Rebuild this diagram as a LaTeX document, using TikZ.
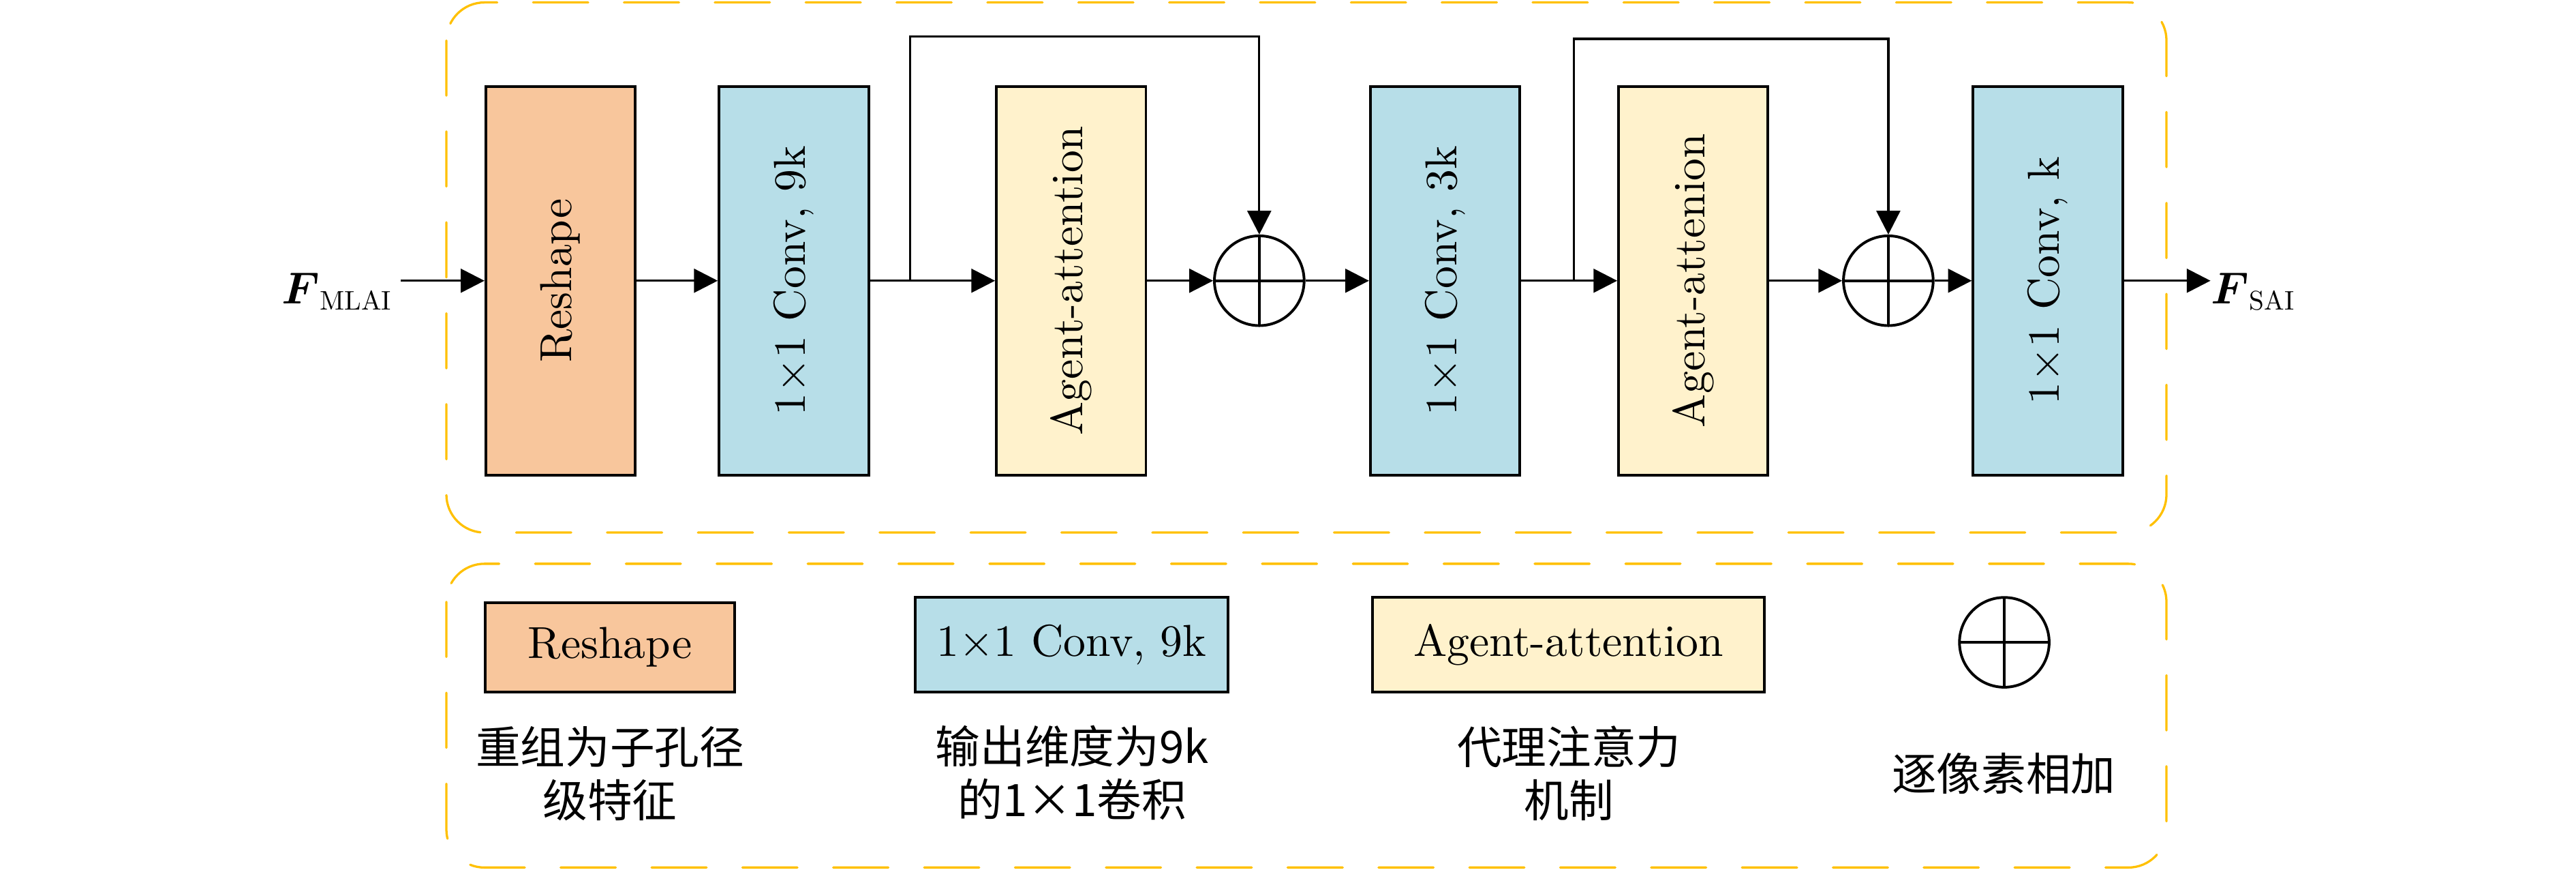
\documentclass[tikz,border=0pt]{standalone}
\usepackage{fontspec}
\usepackage{amsmath,amssymb}
\usepackage{graphicx}
\newfontfamily\cjk{Noto Sans CJK SC}
\usetikzlibrary{arrows.meta,calc}
\definecolor{reshapefill}{RGB}{248,198,156}
\definecolor{convfill}{RGB}{183,222,232}
\definecolor{agentfill}{RGB}{255,242,204}
\definecolor{frameorange}{RGB}{255,192,0}
\newcommand{\onebyone}{1{\texttimes}1}
\newcommand{\subtxt}[1]{\mbox{\scalebox{0.6}{\fontsize{10}{12}\selectfont #1}}}
\begin{document}
\begin{tikzpicture}[x=0.367pt,y=-0.367pt,
  sz/.style 2 args={minimum width=#1*0.367pt, minimum height=#2*0.367pt},
  blk/.style={draw=black, line width=0.6pt, inner sep=0pt, font=\fontsize{10}{12}\selectfont},
  reshapebox/.style={blk, fill=reshapefill},
  convbox/.style={blk, fill=convfill},
  agentbox/.style={blk, fill=agentfill},
  oplus/.style={circle, draw=black, line width=0.6pt, inner sep=0pt, minimum size=54.6*0.367pt,
    path picture={\draw[line width=0.6pt] (path picture bounding box.north) -- (path picture bounding box.south)
      (path picture bounding box.west) -- (path picture bounding box.east);}},
  arr/.style={line width=0.5pt, -{Triangle[length=5.3pt,width=5.3pt]}},
  frame/.style={draw=frameorange, line width=0.5pt, dash pattern=on 12.3pt off 8pt, line cap=round, rounded corners=8.5pt},
  cjktext/.style={font=\cjk\fontsize{10}{11.9}\selectfont, align=center, inner sep=0pt},
  lbl/.style={inner sep=0pt, font=\fontsize{10}{12}\selectfont}
]
\useasboundingbox (0,0) rectangle (1568,528.9);
% frames
\draw[frame] (271.7,1.5) rectangle (1318.7,324);
\draw[frame] (271.7,343) rectangle (1318.7,527.8);
% main row
\node[reshapebox, sz={91}{236.4}] (r) at (341.2,170.8) {\rotatebox{90}{Reshape}};
\node[convbox, sz={91}{236.4}] (c9) at (483.2,170.8) {\rotatebox{90}{\onebyone{} Conv, 9k}};
\node[agentbox, sz={91}{236.4}] (a1) at (652,170.8) {\rotatebox{90}{Agent-attention}};
\node[oplus] (p1) at (766.5,170.8) {};
\node[convbox, sz={91}{236.4}] (c3) at (879.6,170.8) {\rotatebox{90}{\onebyone{} Conv, 3k}};
\node[agentbox, sz={91}{236.4}] (a2) at (1030.7,170.8) {\rotatebox{90}{Agent-attenion}};
\node[oplus] (p2) at (1149.4,170.8) {};
\node[convbox, sz={91}{236.4}] (ck) at (1246.5,170.8) {\rotatebox{90}{\onebyone{} Conv, k}};
\node[lbl, anchor=base east] (fin) at (240,184.6) {$\boldsymbol{F}_{\subtxt{MLAI}}$};
\node[lbl, anchor=base west] (fout) at (1345.5,184.6) {$\boldsymbol{F}_{\subtxt{SAI}}$};
\coordinate (b1) at (554,170.8);
\coordinate (t1) at (766.5,22.2);
\coordinate (b2) at (958,170.8);
\coordinate (t2) at (1149.4,23.7);
% connectors
\draw[arr] ($(fin.east |- r.west)+(4,0)$) -- (r.west);
\draw[arr] (r) -- (c9);
\draw[arr] (c9) -- (a1);
\draw[arr] (b1) |- (t1) -- (p1);
\draw[arr] (a1) -- (p1);
\draw[arr] (p1) -- (c3);
\draw[arr] (c3) -- (a2);
\draw[arr] (b2) |- (t2) -- (p2);
\draw[arr] (a2) -- (p2);
\draw[arr] (p2) -- (ck);
\draw[arr] (ck) -- (fout.west |- ck);
% legend
\node[reshapebox, sz={151.8}{54.3}] (lr) at (371.3,393.85) {Reshape};
\node[convbox, sz={190.5}{57.6}] (lc) at (652.25,392.2) {\onebyone{} Conv, 9k};
\node[agentbox, sz={238.6}{57.6}] (la) at (954.7,392.2) {Agent-attention};
\node[oplus] (lp) at (1220,390.8) {};
\node[cjktext] (lrt) at (371.3,470.5) {重组为子孔径\\级特征};
\node[cjktext] (lct) at (652.6,470) {输出维度为9k\\的1×1卷积};
\node[cjktext] (lat) at (955,470.5) {代理注意力\\机制};
\node[cjktext] (lpt) at (1219.7,470.8) {逐像素相加};
\end{tikzpicture}
\end{document}
